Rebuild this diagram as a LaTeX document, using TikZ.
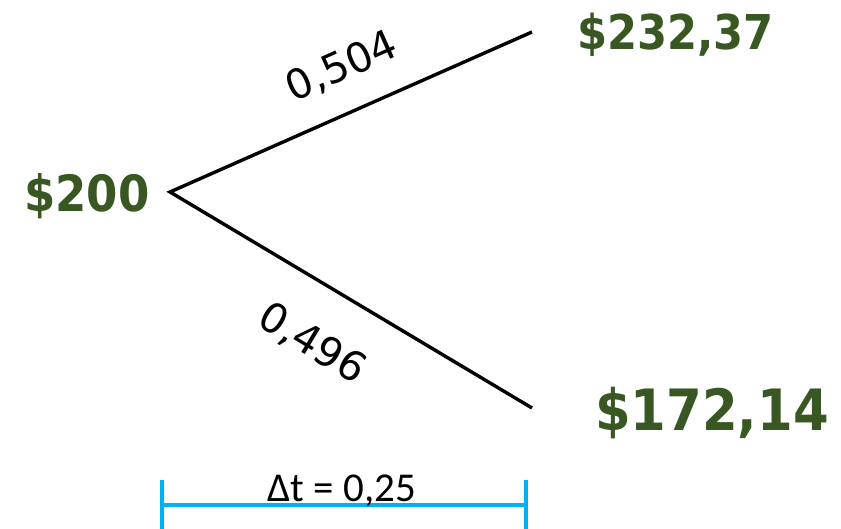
\documentclass[tikz,border=0pt]{standalone}
\usepackage{fontspec}
\newfontfamily\valfont{DejaVu Sans Condensed}
\newfontfamily\labfont{DejaVu Sans}
\newfontfamily\dtfont{Carlito}
\definecolor{valgreen}{HTML}{385723}
\definecolor{brackblue}{HTML}{00B0F0}
\tikzset{
  val/.style={text=valgreen, inner sep=0pt, anchor=base west},
  branch/.style={draw=black, line width=3.4pt},
  problab/.style={inner sep=0pt, font=\labfont\fontsize{41}{41}\selectfont},
  brack/.style={draw=brackblue, line width=3.4pt}
}
\begin{document}
\begin{tikzpicture}[x=1pt,y=-1pt]
\useasboundingbox (0,0) rectangle (841,529);
\coordinate (o) at (170,192);
\coordinate (u) at (532,32);
\coordinate (d) at (532,408);
\draw[branch] (u) -- (o) -- (d);
\node[val, font=\valfont\bfseries\fontsize{50}{50}\selectfont] (s0) at (24,212) {\$200};
\node[val, font=\valfont\bfseries\fontsize{48}{48}\selectfont] (su) at (577,50) {\$232,37};
\node[val, font=\valfont\bfseries\fontsize{57}{57}\selectfont] (sd) at (595,430) {\$172,14};
\node[problab, rotate=24] (pu) at (342,67) {0,504};
\node[problab, rotate=-31] (pd) at (312,344) {0,496};
\coordinate (bl) at (162,505);
\coordinate (br) at (526,505);
\coordinate (blt) at (162,480);
\coordinate (blb) at (162,535);
\coordinate (brt) at (526,480);
\coordinate (brb) at (526,535);
\draw[brack] (bl) -- (br);
\draw[brack] (blt) -- (blb);
\draw[brack] (brt) -- (brb);
\node[inner sep=0pt, anchor=base, font=\dtfont\fontsize{41}{41}\selectfont] (dt) at (342,501) {Δt = 0,25};
\end{tikzpicture}
\end{document}
